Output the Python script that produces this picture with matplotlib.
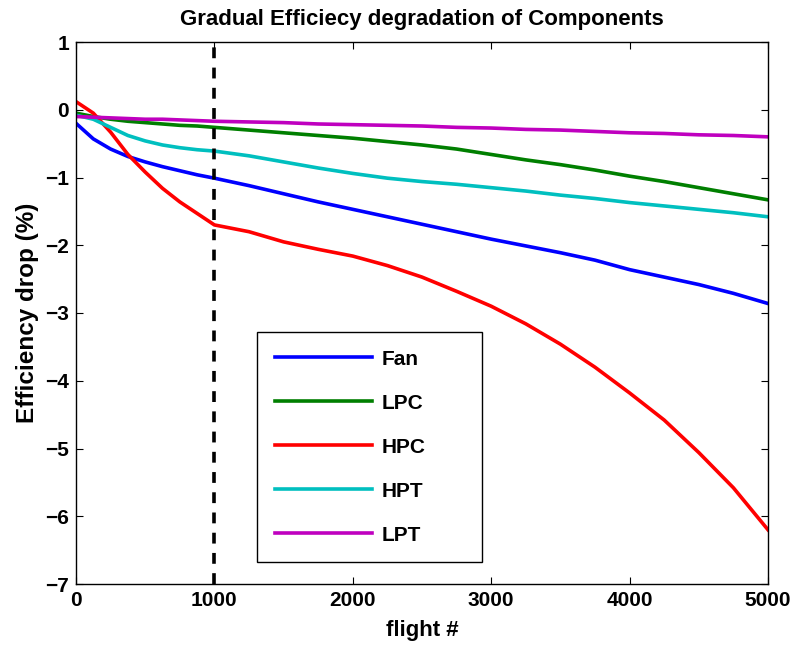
import numpy as np
import matplotlib.pyplot as plt

plt.rcParams['font.family'] = ['Liberation Sans', 'DejaVu Sans']
plt.rcParams['font.weight'] = 'bold'

# degradation curves, efficiency drop in % against flight number
flights = [0, 125, 250, 375, 500, 625, 750, 875, 1000, 1250, 1500, 1750, 2000,
           2250, 2500, 2750, 3000, 3250, 3500, 3750, 4000, 4250, 4500, 4750, 5000]
fan = [-0.20, -0.43, -0.58, -0.69, -0.77, -0.84, -0.90, -0.96, -1.01, -1.12, -1.24, -1.36, -1.47,
       -1.58, -1.69, -1.80, -1.91, -2.01, -2.11, -2.22, -2.36, -2.47, -2.58, -2.71, -2.86]
lpc = [-0.05, -0.10, -0.14, -0.17, -0.19, -0.21, -0.23, -0.24, -0.26, -0.30, -0.34, -0.38, -0.42,
       -0.47, -0.52, -0.58, -0.66, -0.74, -0.81, -0.89, -0.98, -1.06, -1.15, -1.24, -1.33]
hpc = [0.12, -0.05, -0.33, -0.66, -0.92, -1.16, -1.36, -1.53, -1.70, -1.80, -1.95, -2.06, -2.16,
       -2.30, -2.47, -2.68, -2.90, -3.16, -3.46, -3.80, -4.18, -4.58, -5.06, -5.58, -6.20]
hpt = [-0.08, -0.14, -0.26, -0.38, -0.46, -0.52, -0.56, -0.59, -0.61, -0.68, -0.77, -0.86, -0.94,
       -1.01, -1.06, -1.10, -1.15, -1.20, -1.26, -1.31, -1.37, -1.42, -1.47, -1.52, -1.58]
lpt = [-0.10, -0.11, -0.12, -0.13, -0.14, -0.14, -0.15, -0.16, -0.17, -0.18, -0.19, -0.21, -0.22,
       -0.23, -0.24, -0.26, -0.27, -0.29, -0.30, -0.32, -0.34, -0.35, -0.37, -0.38, -0.40]

names = ['Fan', 'LPC', 'HPC', 'HPT', 'LPT']
colors = ['#0000ff', '#007f00', '#ff0000', '#00bfbf', '#bf00bf']

fig = plt.figure(figsize=(7.94, 6.45), dpi=100)
ax = fig.add_axes([76 / 794, 61 / 645, 692 / 794, 542 / 645])

for y, name, c in zip([fan, lpc, hpc, hpt, lpt], names, colors):
    ax.plot(flights, y, color=c, lw=2.6, label=name)

ax.axvline(1000, color='black', lw=2.6, dashes=(3.0, 2.6))

ax.set_xlim(0, 5000)
ax.set_ylim(-7, 1)
ax.set_xticks(np.arange(0, 5001, 1000))
ax.set_yticks(np.arange(-7, 2, 1))
ax.tick_params(direction='in', length=5, width=0.8, top=True, right=True,
               labelsize=15, pad=5)
for s in ax.spines.values():
    s.set_linewidth(1.0)

ax.set_title('Gradual Efficiecy degradation of Components', fontsize=16,
             fontweight='bold', pad=12)
ax.set_xlabel('flight #', fontsize=16, fontweight='bold', labelpad=7)
ax.set_ylabel('Efficiency drop (%)', fontsize=17.5, fontweight='bold', labelpad=4)

# legend box stretched to a fixed width, entries kept at the left
leg_x0 = (257 - 76) / 692
leg_w = (482 - 257) / 692
leg_top = (584 - 332) / 542
leg = ax.legend(loc='upper left', bbox_to_anchor=(leg_x0, leg_top - 0.5, leg_w, 0.5),
                mode='expand', fontsize=15, handlelength=4.65, labelspacing=1.2,
                borderpad=0.85, handletextpad=0.5, fancybox=False, framealpha=1,
                borderaxespad=0)
leg.get_frame().set_edgecolor('black')
leg.get_frame().set_linewidth(1.0)

fig.savefig('out.png', dpi=100)
